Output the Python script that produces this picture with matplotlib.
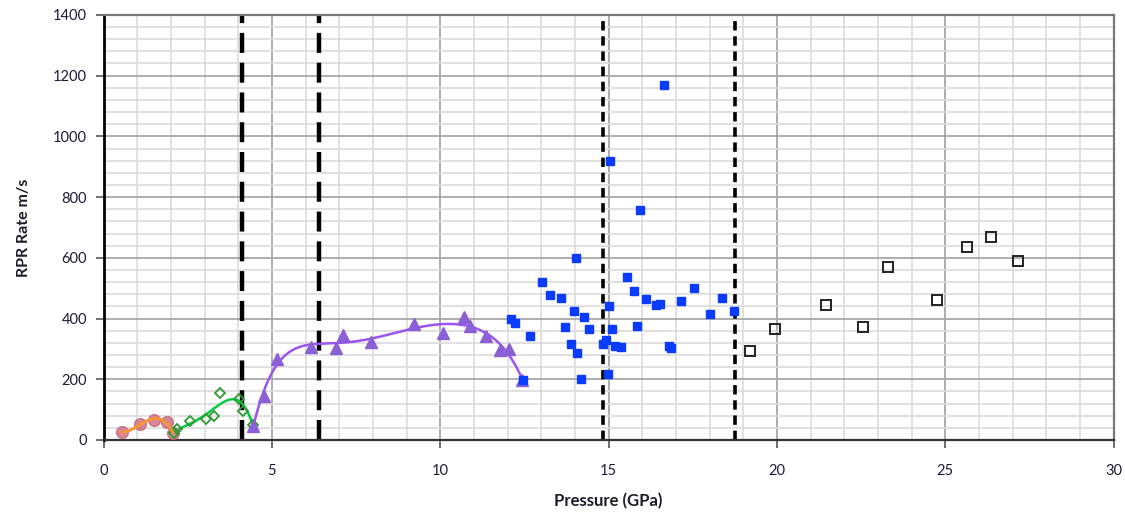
import numpy as np
import matplotlib
matplotlib.use("Agg")
import matplotlib.pyplot as plt
from matplotlib.ticker import MultipleLocator

# ---- data ----
orange_x = [0.55, 1.09, 1.49, 1.89, 2.06]
orange_y = [25, 53, 66, 58, 23]

green_x = [2.08, 2.18, 2.58, 3.03, 3.28, 3.47, 4.02, 4.14, 4.45]
green_y = [22, 36, 64, 69, 80, 155, 135, 97, 50]

purple_x = [4.44, 4.77, 5.16, 6.16, 6.90, 7.10, 7.94, 9.23, 10.08, 10.72,
            10.87, 11.37, 11.77, 12.04, 12.44]
purple_y = [47, 146, 267, 306, 303, 347, 322, 383, 353, 405,
            377, 342, 297, 300, 196]

blue_x = [12.11, 12.21, 12.46, 12.68, 13.03, 13.26, 13.60, 13.71, 13.87, 13.98,
          14.03, 14.07, 14.17, 14.27, 14.43, 14.82, 14.92, 14.99, 15.01, 15.04,
          15.11, 15.19, 15.37, 15.56, 15.74, 15.85, 15.94, 16.12, 16.40, 16.53,
          16.63, 16.78, 16.86, 17.15, 17.55, 18.02, 18.37, 18.73]
blue_y = [397, 385, 196, 342, 521, 477, 469, 371, 315, 424,
          600, 286, 201, 404, 366, 315, 330, 216, 440, 920,
          366, 311, 306, 537, 492, 377, 759, 465, 443, 449,
          1168, 311, 304, 458, 502, 416, 469, 424]

black_x = [19.21, 19.94, 21.45, 22.56, 23.30, 24.75, 25.65, 26.36, 27.16]
black_y = [292, 364, 443, 372, 570, 460, 634, 667, 591]

thick_dash_x = [4.1, 6.4]
thin_dash_x = [14.83, 18.74]

x_ticks = [0, 5, 10, 15, 20, 25, 30]
y_ticks = [0, 200, 400, 600, 800, 1000, 1200, 1400]

plt.rcParams['font.family'] = ['Lato', 'DejaVu Sans']

fig = plt.figure(figsize=(11.25, 5.14), dpi=100)
ax = fig.add_axes([0.092, 0.144, 0.898, 0.827])
ax.set_xlim(0, 30)
ax.set_ylim(0, 1400)

# grid
ax.xaxis.set_major_locator(MultipleLocator(5))
ax.xaxis.set_minor_locator(MultipleLocator(1))
ax.yaxis.set_major_locator(MultipleLocator(200))
ax.yaxis.set_minor_locator(MultipleLocator(40))
ax.grid(which='minor', color='#dcdcdc', lw=1.2, zorder=0)
ax.grid(which='major', color='#a8a8a8', lw=1.3, zorder=0)
ax.set_axisbelow(True)

# dashed lines
for xv in thick_dash_x:
    ax.axvline(xv, color='black', lw=3.2, dashes=(4.5, 2.2), zorder=2)
for xv in thin_dash_x:
    ax.axvline(xv, color='black', lw=2.6, dashes=(2.6, 1.6), zorder=2)

def fitline(xs, ys, deg, color, lw, z):
    c = np.polyfit(xs, ys, deg)
    xx = np.linspace(min(xs), max(xs), 300)
    ax.plot(xx, np.polyval(c, xx), color=color, lw=lw, zorder=z)

ax.plot(orange_x, orange_y, 'o', ms=8.5, mfc='#cc6a80', mec='#c86478', alpha=0.8, zorder=4)
fitline(orange_x, orange_y, 3, '#f7962f', 2.0, 4.5)
fitline(green_x, green_y, 4, '#00cc44', 1.8, 3)
fitline(purple_x, purple_y, 6, '#9a55f0', 1.8, 3)

ax.plot(green_x, green_y, 'D', ms=5.5, mfc='none', mec='#2f9a2f', mew=1.3, zorder=4)
ax.plot(purple_x, purple_y, '^', ms=8, mfc='#8b5fd6', mec='#8b5fd6', zorder=4)
ax.plot(blue_x, blue_y, 's', ms=6, mfc='#0a3cff', mec='#0a3cff', zorder=5)
ax.plot(black_x, black_y, 's', ms=6.8, mfc='none', mec='#222222', mew=1.4, zorder=5)

ax.set_xticks(x_ticks)
ax.set_yticks(y_ticks)
ax.tick_params(axis='x', which='major', direction='out', length=6, width=1.2,
               color='#555555', pad=11, labelsize=10.5, labelcolor='#1c1c3a')
ax.tick_params(axis='y', which='major', direction='out', length=6, width=1.2,
               color='#555555', pad=6, labelsize=10.5, labelcolor='#1c1c3a')
ax.tick_params(which='minor', length=0)

ax.spines['left'].set_color('black')
ax.spines['left'].set_linewidth(2)
ax.spines['bottom'].set_color('#333333')
ax.spines['bottom'].set_linewidth(1.6)
for s in ['top', 'right']:
    ax.spines[s].set_color('#777777')
    ax.spines[s].set_linewidth(1.6)

ax.set_xlabel('Pressure (GPa)', fontsize=12, fontweight='bold', color='#1c1c2a', labelpad=11)
ax.set_ylabel('RPR Rate m/s', fontsize=11.5, fontweight='bold', color='#1c1c2a', labelpad=16)

fig.savefig('out.png', dpi=100)
